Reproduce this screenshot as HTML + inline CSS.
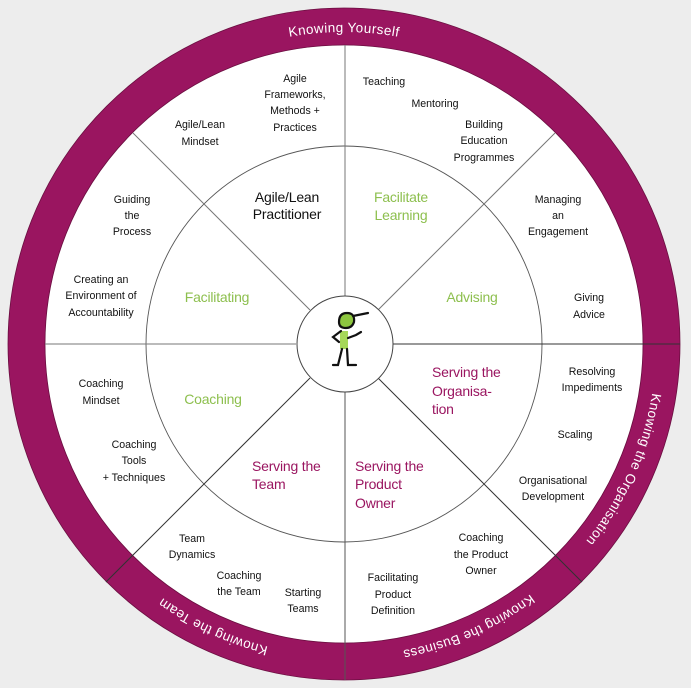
<!DOCTYPE html>
<html><head><meta charset="utf-8"><style>
html,body{margin:0;padding:0;background:#ededed;}
svg{display:block;}
.s{font-family:"Liberation Sans",sans-serif;font-size:10.6px;fill:#111;text-anchor:middle;dominant-baseline:central;}
.m{font-family:"Liberation Sans",sans-serif;font-size:14px;letter-spacing:-0.2px;text-anchor:middle;dominant-baseline:central;}
.m.st{text-anchor:start;}
.g{fill:#8dbf4e}.p{fill:#9a1560}.k{fill:#111}
.r{font-family:"Liberation Sans",sans-serif;font-size:13.5px;fill:#fff;letter-spacing:0.4px;}
</style></head><body>
<svg width="691" height="688" viewBox="0 0 691 688" xmlns="http://www.w3.org/2000/svg">
<rect width="691" height="688" fill="#ededed"/>
<circle cx="344" cy="344" r="336" fill="#9a1560" stroke="#6a0e40" stroke-width="0.8"/>
<circle cx="344" cy="344" r="299" fill="#fff" stroke="#6a0e40" stroke-width="0.8"/>
<circle cx="344" cy="344" r="198" fill="none" stroke="#555" stroke-width="0.9"/>
<g stroke="#777" stroke-width="1">
<line x1="392" y1="344" x2="680" y2="344" stroke="#333"/>
<line x1="296" y1="344" x2="45" y2="344"/>
<line x1="345" y1="296" x2="345" y2="45"/>
<line x1="345" y1="392" x2="345" y2="680" stroke="#555"/>
<line x1="378" y1="310" x2="555" y2="133"/>
<line x1="310" y1="310" x2="133" y2="133"/>
<line x1="378" y1="378" x2="582" y2="582" stroke="#333"/>
<line x1="310" y1="378" x2="106" y2="582" stroke="#333"/>
</g>
<circle cx="345" cy="344" r="48" fill="#fff" stroke="#444" stroke-width="1"/>
<g stroke="#111" stroke-width="2.2" fill="none" stroke-linecap="round">
<path d="M339 322 q0 -9 8 -9 q8 0 7 9 q-2 6 -8 6 q-7 0 -7 -6z" fill="#8dc63f"/>
<line x1="353" y1="316" x2="368" y2="313"/>
<rect x="340" y="331" width="8" height="18" fill="#a6d85a" stroke="none"/>
<path d="M341 331 l-8 6 l6 5"/>
<path d="M348 338 l8 -3 l5 -3"/>
<path d="M342 349 l-4 16 l-5 0"/>
<path d="M347 349 l1 16 l8 0"/>
</g>
<defs><path id="c" d="M656 344 A312 312 0 1 1 32 344 A312 312 0 1 1 656 344"/></defs>
<text class="r" text-anchor="middle"><textPath href="#c" startOffset="75%">Knowing Yourself</textPath></text>
<text class="r" text-anchor="middle"><textPath href="#c" startOffset="6.7%">Knowing the Organisation</textPath></text>
<text class="r" text-anchor="middle"><textPath href="#c" startOffset="18.4%">Knowing the Business</textPath></text>
<text class="r" text-anchor="middle"><textPath href="#c" startOffset="31.9%">Knowing the Team</textPath></text>
<g class="s">
<text x="295" y="79">Agile</text><text x="295" y="95">Frameworks,</text><text x="295" y="111">Methods +</text><text x="295" y="128">Practices</text>
<text x="200" y="125">Agile/Lean</text><text x="200" y="142">Mindset</text>
<text x="384" y="82">Teaching</text>
<text x="435" y="104">Mentoring</text>
<text x="484" y="125">Building</text><text x="484" y="141">Education</text><text x="484" y="158">Programmes</text>
<text x="558" y="200">Managing</text><text x="558" y="216">an</text><text x="558" y="232">Engagement</text>
<text x="589" y="298">Giving</text><text x="589" y="315">Advice</text>
<text x="132" y="200">Guiding</text><text x="132" y="216">the</text><text x="132" y="232">Process</text>
<text x="101" y="280">Creating an</text><text x="101" y="296">Environment of</text><text x="101" y="313">Accountability</text>
<text x="101" y="384">Coaching</text><text x="101" y="401">Mindset</text>
<text x="134" y="445">Coaching</text><text x="134" y="461">Tools</text><text x="134" y="478">+ Techniques</text>
<text x="192" y="539">Team</text><text x="192" y="555">Dynamics</text>
<text x="239" y="576">Coaching</text><text x="239" y="592">the Team</text>
<text x="303" y="593">Starting</text><text x="303" y="609">Teams</text>
<text x="393" y="578">Facilitating</text><text x="393" y="595">Product</text><text x="393" y="611">Definition</text>
<text x="481" y="538">Coaching</text><text x="481" y="555">the Product</text><text x="481" y="571">Owner</text>
<text x="553" y="481">Organisational</text><text x="553" y="497">Development</text>
<text x="575" y="435">Scaling</text>
<text x="592" y="372">Resolving</text><text x="592" y="388">Impediments</text>
</g>
<g>
<text class="m k" x="287" y="197">Agile/Lean</text><text class="m k" x="287" y="214">Practitioner</text>
<text class="m g" x="401" y="197">Facilitate</text><text class="m g" x="401" y="215">Learning</text>
<text class="m g" x="217" y="297">Facilitating</text>
<text class="m g" x="472" y="297">Advising</text>
<text class="m g" x="213" y="399">Coaching</text>
<text class="m p st" x="432" y="372">Serving the</text><text class="m p st" x="432" y="391">Organisa-</text><text class="m p st" x="432" y="409">tion</text>
<text class="m p st" x="252" y="466">Serving the</text><text class="m p st" x="252" y="484">Team</text>
<text class="m p st" x="355" y="466">Serving the</text><text class="m p st" x="355" y="484">Product</text><text class="m p st" x="355" y="503">Owner</text>
</g>
</svg>
</body></html>
